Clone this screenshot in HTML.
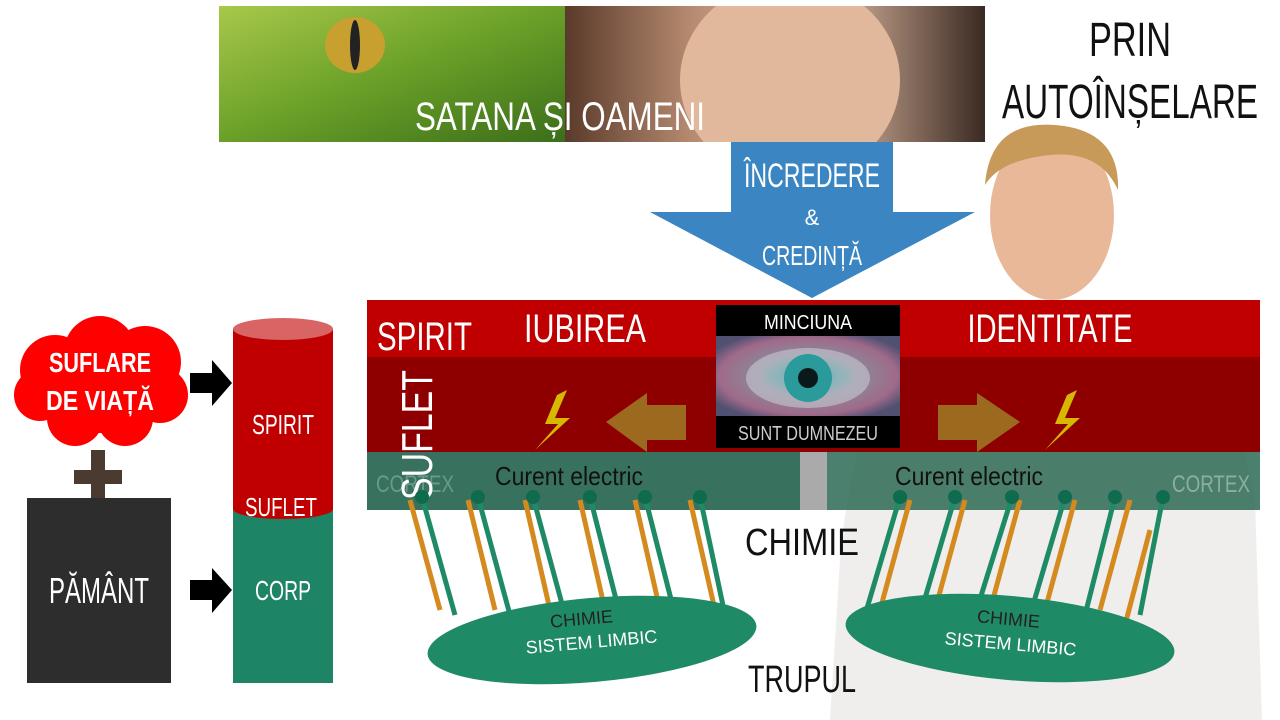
<!DOCTYPE html>
<html><head><meta charset="utf-8"><style>
html,body{margin:0;padding:0;background:#fff;width:1280px;height:720px;overflow:hidden}
svg{display:block}
text{font-family:"Liberation Sans Narrow","Liberation Sans",sans-serif}
</style></head><body>
<svg width="1280" height="720" viewBox="0 0 1280 720" xmlns="http://www.w3.org/2000/svg">
<defs>
<linearGradient id="snake" x1="0" y1="0" x2="1" y2="1"><stop offset="0" stop-color="#a8c84a"/><stop offset=".5" stop-color="#6aa028"/><stop offset="1" stop-color="#3c6e1a"/></linearGradient>
<linearGradient id="face" x1="0" y1="0" x2="1" y2="0"><stop offset="0" stop-color="#5a3a2a"/><stop offset=".3" stop-color="#b58a70"/><stop offset=".6" stop-color="#e6c0a8"/><stop offset="1" stop-color="#3a2a22"/></linearGradient>
<radialGradient id="eye" cx=".5" cy=".5" r=".6"><stop offset="0" stop-color="#103030"/><stop offset=".25" stop-color="#2a9a9a"/><stop offset=".45" stop-color="#8a8a9a"/><stop offset=".8" stop-color="#a06a8a"/><stop offset="1" stop-color="#505070"/></radialGradient>
<clipPath id="ban"><rect x="219" y="6" width="766" height="136"/></clipPath>
</defs>
<!-- top banner -->
<g clip-path="url(#ban)">
<rect x="219" y="6" width="346" height="136" fill="url(#snake)"/>
<ellipse cx="355" cy="45" rx="30" ry="28" fill="#c8a030"/>
<ellipse cx="355" cy="45" rx="5" ry="25" fill="#222"/>
<rect x="565" y="6" width="420" height="136" fill="url(#face)"/>
<ellipse cx="790" cy="80" rx="110" ry="100" fill="#e2b89c"/>
</g>
<text x="560" y="130" font-size="40" fill="#fff" text-anchor="middle" textLength="290" lengthAdjust="spacingAndGlyphs">SATANA ȘI OAMENI</text>
<text x="1130" y="56" font-size="48" fill="#111" text-anchor="middle" textLength="82" lengthAdjust="spacingAndGlyphs">PRIN</text>
<text x="1130" y="118" font-size="48" fill="#111" text-anchor="middle" textLength="256" lengthAdjust="spacingAndGlyphs">AUTOÎNȘELARE</text>
<!-- man -->
<path d="M830 720 L840 560 Q860 330 990 300 L1080 300 Q1230 330 1255 500 L1262 720 Z" fill="#f0eeec"/>
<ellipse cx="1052" cy="215" rx="62" ry="85" fill="#e8b898"/>
<path d="M985 185 Q990 120 1055 125 Q1120 130 1118 190 Q1100 150 1050 155 Q1000 160 985 185Z" fill="#c89a5a"/>
<!-- blue arrow -->
<polygon points="731,142 893,142 893,212 975,212 812,298 650,212 731,212" fill="#3b86c2"/>
<text x="812" y="187" font-size="34" fill="#fff" text-anchor="middle" textLength="136" lengthAdjust="spacingAndGlyphs">ÎNCREDERE</text>
<text x="812" y="225" font-size="22" fill="#fff" text-anchor="middle">&amp;</text>
<text x="812" y="265" font-size="28" fill="#fff" text-anchor="middle" textLength="100" lengthAdjust="spacingAndGlyphs">CREDINȚĂ</text>
<!-- bands -->
<rect x="367" y="300" width="893" height="57" fill="#c00000"/>
<rect x="367" y="357" width="893" height="95" fill="#8e0000"/>
<rect x="367" y="452" width="433" height="58" fill="#2d6a55" opacity=".95"/>
<rect x="800" y="452" width="27" height="58" fill="#aaa"/>
<rect x="827" y="452" width="433" height="58" fill="#2d6a55" opacity=".85"/>
<text x="377" y="350" font-size="40" fill="#fff" textLength="95" lengthAdjust="spacingAndGlyphs">SPIRIT</text>
<text x="585" y="342" font-size="40" fill="#fff" text-anchor="middle" textLength="122" lengthAdjust="spacingAndGlyphs">IUBIREA</text>
<text x="1050" y="342" font-size="40" fill="#fff" text-anchor="middle" textLength="165" lengthAdjust="spacingAndGlyphs">IDENTITATE</text>
<text x="376" y="492" font-size="24" fill="#6a9a8a" textLength="78" lengthAdjust="spacingAndGlyphs">CORTEX</text>
<text x="1250" y="492" font-size="24" fill="#8ab0a0" text-anchor="end" textLength="78" lengthAdjust="spacingAndGlyphs">CORTEX</text>
<text x="495" y="485" font-size="26" fill="#111" textLength="148" lengthAdjust="spacingAndGlyphs">Curent electric</text>
<text x="895" y="485" font-size="26" fill="#111" textLength="148" lengthAdjust="spacingAndGlyphs">Curent electric</text>
<text transform="translate(432,500) rotate(-90)" font-size="44" fill="#fff" textLength="130" lengthAdjust="spacingAndGlyphs">SUFLET</text>
<!-- eye box -->
<rect x="716" y="305" width="184" height="143" fill="#000"/>
<rect x="716" y="336" width="184" height="80" fill="url(#eye)"/>
<ellipse cx="808" cy="378" rx="62" ry="30" fill="#c8c8d0" opacity=".6"/>
<circle cx="808" cy="378" r="24" fill="#2a9a9a"/>
<circle cx="808" cy="378" r="10" fill="#0a1a1a"/>
<text x="808" y="329" font-size="20" fill="#fff" text-anchor="middle" textLength="88" lengthAdjust="spacingAndGlyphs">MINCIUNA</text>
<text x="808" y="440" font-size="20" fill="#ccc" text-anchor="middle" textLength="140" lengthAdjust="spacingAndGlyphs">SUNT DUMNEZEU</text>
<!-- brown arrows -->
<polygon points="686,405 647,405 647,393 606,422 647,452 647,440 686,440" fill="#9c6a1f"/>
<polygon points="938,405 977,405 977,393 1020,422 977,452 977,440 938,440" fill="#9c6a1f"/>
<polygon points="567,390 555,418 570,418 535,450 558,424 545,424 557,395" fill="#d6b800"/>
<polygon points="1077,390 1065,418 1080,418 1045,450 1068,424 1055,424 1067,395" fill="#d6b800"/>
<!-- lines -->
<g stroke-width="5">
<g stroke="#d48a1e"><line x1="440" y1="610" x2="410" y2="500"/><line x1="495" y1="610" x2="468" y2="500"/><line x1="550" y1="610" x2="525" y2="500"/><line x1="605" y1="610" x2="580" y2="500"/><line x1="660" y1="610" x2="635" y2="500"/><line x1="715" y1="610" x2="690" y2="500"/>
<line x1="880" y1="610" x2="910" y2="500"/><line x1="935" y1="610" x2="965" y2="500"/><line x1="990" y1="610" x2="1020" y2="500"/><line x1="1045" y1="610" x2="1075" y2="500"/><line x1="1100" y1="610" x2="1130" y2="500"/><line x1="1125" y1="625" x2="1150" y2="530"/></g>
<g stroke="#1f8a66"><line x1="455" y1="615" x2="422" y2="497"/><line x1="510" y1="615" x2="478" y2="497"/><line x1="565" y1="615" x2="533" y2="497"/><line x1="620" y1="615" x2="590" y2="497"/><line x1="675" y1="615" x2="645" y2="497"/><line x1="725" y1="615" x2="700" y2="497"/>
<line x1="865" y1="615" x2="900" y2="497"/><line x1="920" y1="615" x2="955" y2="497"/><line x1="975" y1="615" x2="1012" y2="497"/><line x1="1030" y1="615" x2="1065" y2="497"/><line x1="1085" y1="615" x2="1115" y2="497"/><line x1="1140" y1="615" x2="1163" y2="497"/></g>
</g>
<g fill="#0e6b4e"><circle cx="422" cy="497" r="7"/><circle cx="478" cy="497" r="7"/><circle cx="533" cy="497" r="7"/><circle cx="590" cy="497" r="7"/><circle cx="645" cy="497" r="7"/><circle cx="700" cy="497" r="7"/><circle cx="900" cy="497" r="7"/><circle cx="955" cy="497" r="7"/><circle cx="1012" cy="497" r="7"/><circle cx="1065" cy="497" r="7"/><circle cx="1115" cy="497" r="7"/><circle cx="1163" cy="497" r="7"/></g>
<ellipse cx="592" cy="640" rx="165" ry="42" transform="rotate(-5 592 640)" fill="#1f8a66"/>
<ellipse cx="1010" cy="638" rx="165" ry="42" transform="rotate(5 1010 638)" fill="#1f8a66"/>
<text x="582" y="625" font-size="18" fill="#222" text-anchor="middle" transform="rotate(-5 582 625)">CHIMIE</text>
<text x="592" y="648" font-size="18" fill="#fff" text-anchor="middle" transform="rotate(-5 592 648)">SISTEM LIMBIC</text>
<text x="1008" y="625" font-size="18" fill="#222" text-anchor="middle" transform="rotate(5 1008 625)">CHIMIE</text>
<text x="1010" y="650" font-size="18" fill="#fff" text-anchor="middle" transform="rotate(5 1010 650)">SISTEM LIMBIC</text>
<text x="802" y="555" font-size="38" fill="#111" text-anchor="middle" textLength="114" lengthAdjust="spacingAndGlyphs">CHIMIE</text>
<text x="802" y="692" font-size="38" fill="#111" text-anchor="middle" textLength="108" lengthAdjust="spacingAndGlyphs">TRUPUL</text>
<!-- left diagram -->
<g fill="#f00">
<circle cx="55" cy="370" r="35"/><circle cx="100" cy="352" r="36"/><circle cx="145" cy="362" r="36"/><circle cx="160" cy="395" r="28"/><circle cx="125" cy="418" r="28"/><circle cx="75" cy="418" r="28"/><circle cx="40" cy="395" r="26"/><circle cx="100" cy="388" r="45"/>
</g>
<text x="100" y="372" font-size="28" font-weight="bold" fill="#fff" text-anchor="middle" textLength="102" lengthAdjust="spacingAndGlyphs">SUFLARE</text>
<text x="100" y="410" font-size="28" font-weight="bold" fill="#fff" text-anchor="middle" textLength="108" lengthAdjust="spacingAndGlyphs">DE VIAȚĂ</text>
<polygon points="190,373 212,373 212,360 232,383 212,406 212,393 190,393" fill="#000"/>
<polygon points="190,580 212,580 212,568 232,590 212,613 212,600 190,600" fill="#000"/>
<rect x="74" y="470" width="48" height="14" fill="#4a3a30"/>
<rect x="91" y="450" width="14" height="48" fill="#4a3a30"/>
<rect x="27" y="498" width="144" height="185" fill="#2d2d2d"/>
<text x="99" y="603" font-size="36" fill="#fff" text-anchor="middle" textLength="100" lengthAdjust="spacingAndGlyphs">PĂMÂNT</text>
<rect x="233" y="505" width="100" height="178" fill="#1e8466"/>
<rect x="233" y="329" width="100" height="180" fill="#c00000"/>
<ellipse cx="283" cy="509" rx="50" ry="10" fill="#c00000"/>
<ellipse cx="283" cy="329" rx="50" ry="11" fill="#d86464"/>
<text x="283" y="434" font-size="28" fill="#fff" text-anchor="middle" textLength="62" lengthAdjust="spacingAndGlyphs">SPIRIT</text>
<text x="281" y="516" font-size="26" fill="#fff" text-anchor="middle" textLength="72" lengthAdjust="spacingAndGlyphs">SUFLET</text>
<text x="283" y="600" font-size="28" fill="#fff" text-anchor="middle" textLength="56" lengthAdjust="spacingAndGlyphs">CORP</text>
</svg>
</body></html>
